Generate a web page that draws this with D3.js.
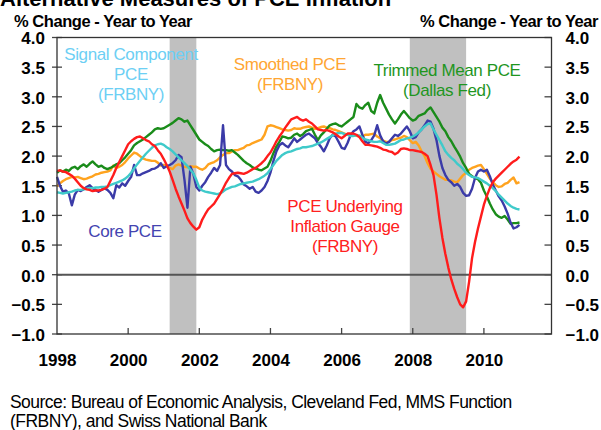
<!DOCTYPE html>
<html>
<head>
<meta charset="utf-8">
<title>Alternative Measures of PCE Inflation</title>
<script src="https://d3js.org/d3.v7.min.js"></script>
<style>
  body { margin: 0; background: #fff; }
  svg { display: block; font-family: "Liberation Sans", Arial, sans-serif; }
</style>
</head>
<body>
<script>
  var width = 601, height = 430;

  // monthly data, first point = Jan 1998
  var startYear = 1998;
  var yearTicks = [1998, 2000, 2002, 2004, 2006, 2008, 2010];
  var valueTicks = [-1, -0.5, 0, 0.5, 1, 1.5, 2, 2.5, 3, 3.5, 4];
  // recession periods, in fractional years
  var recessions = [[2001 + 2 / 12, 2001 + 11 / 12], [2007 + 11 / 12, 2009 + 6 / 12]];

  var underlyingGauge = [
    1.75, 1.76, 1.74, 1.73, 1.70, 1.67, 1.62, 1.56, 1.50, 1.46, 1.44, 1.43,
    1.41, 1.42, 1.42, 1.43, 1.45, 1.48, 1.58, 1.68, 1.80, 1.90, 2.00, 2.10,
    2.20, 2.25, 2.29, 2.32, 2.33, 2.30, 2.27, 2.25, 2.20, 2.17, 2.10, 2.04,
    1.95, 1.85, 1.74, 1.60, 1.45, 1.32, 1.20, 1.08, 0.95, 0.87, 0.81, 0.76,
    0.80, 0.93, 1.02, 1.10, 1.15, 1.20, 1.28, 1.36, 1.45, 1.55, 1.63, 1.70,
    1.71, 1.72, 1.71, 1.70, 1.72, 1.75, 1.78, 1.80, 1.84, 1.88, 1.93, 2.00,
    2.06, 2.15, 2.25, 2.33, 2.40, 2.48, 2.55, 2.62, 2.64, 2.66, 2.62, 2.60,
    2.62, 2.58, 2.55, 2.50, 2.45, 2.44, 2.43, 2.44, 2.42, 2.40, 2.37, 2.33,
    2.30, 2.34, 2.38, 2.38, 2.38, 2.36, 2.32, 2.25, 2.19, 2.19, 2.18, 2.17,
    2.16, 2.14, 2.11, 2.10, 2.08, 2.07, 2.03, 2.06, 2.12, 2.13, 2.12, 2.10,
    2.10, 2.09, 2.08, 2.07, 2.04, 2.00, 1.85, 1.68, 1.35, 0.95, 0.62, 0.35,
    0.12, -0.08, -0.24, -0.38, -0.50, -0.55, -0.45, -0.12, 0.28, 0.55, 0.78, 0.98,
    1.18, 1.33, 1.46, 1.56, 1.62, 1.67, 1.72, 1.77, 1.82, 1.87, 1.91, 1.94,
    1.99
  ];

  var trimmedMean = [
    1.72, 1.76, 1.74, 1.77, 1.75, 1.80, 1.82, 1.78, 1.83, 1.86, 1.82, 1.87,
    1.91, 1.86, 1.82, 1.84, 1.80, 1.78, 1.80, 1.83, 1.86, 1.88, 1.93, 1.98,
    2.04, 2.10, 2.18, 2.22, 2.25, 2.28, 2.32, 2.36, 2.40, 2.45, 2.47, 2.46,
    2.47, 2.50, 2.53, 2.56, 2.60, 2.64, 2.62, 2.58, 2.60, 2.52, 2.44, 2.36,
    2.28, 2.24, 2.20, 2.17, 2.12, 2.08, 2.10, 2.11, 2.10, 2.10, 2.09, 2.10,
    2.06, 2.02, 1.97, 1.92, 1.88, 1.85, 1.81, 1.79, 1.77, 1.76, 1.79, 1.82,
    1.92, 2.05, 2.16, 2.24, 2.33, 2.32, 2.30, 2.31, 2.36, 2.38, 2.34, 2.37,
    2.42, 2.44, 2.46, 2.36, 2.27, 2.35, 2.40, 2.46, 2.52, 2.54, 2.55, 2.52,
    2.50, 2.54, 2.58, 2.62, 2.66, 2.88, 2.82, 2.80, 2.86, 2.90, 2.76, 2.72,
    2.90, 3.03, 2.90, 2.80, 2.70, 2.62, 2.55, 2.62, 2.70, 2.76, 2.70, 2.64,
    2.60, 2.62, 2.68, 2.70, 2.72, 2.78, 2.82, 2.74, 2.66, 2.58, 2.48, 2.42,
    2.32, 2.25, 2.16, 2.08, 1.99, 1.88, 1.80, 1.70, 1.66, 1.63, 1.61, 1.55,
    1.42, 1.32, 1.20, 1.10, 1.02, 0.98, 0.96, 0.99, 0.93, 0.86, 0.87, 0.87,
    0.88
  ];

  var corePCE = [
    1.65, 1.50, 1.40, 1.42, 1.37, 1.17, 1.35, 1.43, 1.41, 1.44, 1.48, 1.51,
    1.46, 1.43, 1.40, 1.43, 1.46, 1.43, 1.38, 1.29, 1.51, 1.47, 1.54, 1.50,
    1.58, 1.65, 1.85, 1.68, 1.68, 1.71, 1.73, 1.75, 1.78, 1.79, 1.82, 1.88,
    1.80, 1.83, 1.85, 1.88, 1.93, 2.02, 1.98, 1.60, 1.13, 1.82, 1.70, 1.48,
    1.42, 1.50, 1.56, 1.65, 1.72, 1.80, 1.75, 1.85, 2.52, 1.85, 1.78, 1.74,
    1.68, 1.66, 1.60, 1.52, 1.49, 1.45, 1.48, 1.40, 1.38, 1.42, 1.48, 1.58,
    1.72, 1.92, 2.08, 2.18, 2.22, 2.18, 2.15, 2.22, 2.30, 2.24, 2.28, 2.32,
    2.36, 2.38, 2.34, 2.30, 2.22, 2.16, 2.08, 2.18, 2.30, 2.36, 2.33, 2.24,
    2.14, 2.12, 2.22, 2.35, 2.42, 2.45, 2.50, 2.36, 2.24, 2.22, 2.27, 2.35,
    2.52, 2.35, 2.25, 2.21, 2.24, 2.30, 2.36, 2.34, 2.38, 2.44, 2.50, 2.42,
    2.30, 2.32, 2.40, 2.45, 2.52, 2.60, 2.58, 2.46, 2.27, 2.00, 1.80, 1.68,
    1.60, 1.56, 1.50, 1.53, 1.48, 1.38, 1.33, 1.34, 1.45, 1.63, 1.74, 1.77,
    1.74, 1.77, 1.66, 1.52, 1.42, 1.32, 1.25, 1.15, 1.03, 0.88, 0.78, 0.80,
    0.84
  ];

  var signalComponent = [
    1.39, 1.38, 1.37, 1.38, 1.39, 1.40, 1.42, 1.43, 1.43, 1.44, 1.45, 1.46,
    1.46, 1.47, 1.47, 1.48, 1.48, 1.49, 1.51, 1.53, 1.55, 1.57, 1.59, 1.62,
    1.66, 1.72, 1.79, 1.86, 1.92, 1.98, 2.04, 2.09, 2.14, 2.18, 2.20, 2.21,
    2.19, 2.15, 2.12, 2.08, 2.03, 1.98, 1.93, 1.88, 1.83, 1.77, 1.71, 1.60,
    1.47, 1.42, 1.40, 1.39, 1.38, 1.37, 1.36, 1.37, 1.40, 1.44, 1.46, 1.48,
    1.49, 1.51, 1.53, 1.54, 1.55, 1.56, 1.57, 1.59, 1.61, 1.64, 1.67, 1.71,
    1.78, 1.85, 1.92, 1.97, 2.02, 2.05, 2.07, 2.08, 2.10, 2.12, 2.13, 2.15,
    2.15, 2.16, 2.17, 2.19, 2.21, 2.23, 2.26, 2.29, 2.32, 2.35, 2.38, 2.39,
    2.39, 2.37, 2.36, 2.34, 2.34, 2.35, 2.35, 2.31, 2.28, 2.27, 2.25, 2.24,
    2.24, 2.25, 2.22, 2.19, 2.19, 2.20, 2.21, 2.24, 2.27, 2.28, 2.30, 2.31,
    2.33, 2.36, 2.40, 2.45, 2.50, 2.54, 2.55, 2.45, 2.36, 2.27, 2.18, 2.08,
    2.02, 1.97, 1.93, 1.87, 1.83, 1.78, 1.72, 1.68, 1.65, 1.64, 1.63, 1.60,
    1.57, 1.54, 1.50, 1.46, 1.41, 1.35, 1.30, 1.25, 1.20, 1.16, 1.13, 1.11,
    1.10
  ];

  var smoothedPCE = [
    1.49, 1.54, 1.58, 1.61, 1.63, 1.65, 1.64, 1.65, 1.63, 1.61, 1.62, 1.64,
    1.66, 1.69, 1.70, 1.72, 1.73, 1.74, 1.76, 1.84, 1.80, 1.82, 1.85, 1.90,
    1.96, 2.01, 2.06, 2.04, 2.00, 1.96, 1.94, 1.93, 1.92, 1.92, 1.89, 1.84,
    1.85, 1.84, 1.80, 1.78, 1.84, 1.86, 1.84, 1.82, 1.81, 1.83, 1.82, 1.82,
    1.79, 1.77, 1.80, 1.86, 1.88, 1.90, 1.93, 1.98, 2.02, 2.05, 2.05, 2.08,
    2.10, 2.10, 2.12, 2.14, 2.18, 2.19, 2.22, 2.24, 2.26, 2.28, 2.36, 2.50,
    2.52, 2.51, 2.49, 2.47, 2.45, 2.44, 2.43, 2.44, 2.47, 2.46, 2.46, 2.48,
    2.49, 2.50, 2.48, 2.46, 2.47, 2.49, 2.50, 2.48, 2.47, 2.45, 2.44, 2.42,
    2.40, 2.38, 2.36, 2.35, 2.35, 2.34, 2.33, 2.33, 2.36, 2.36, 2.37, 2.38,
    2.33, 2.30, 2.26, 2.24, 2.24, 2.27, 2.28, 2.30, 2.31, 2.34, 2.32, 2.27,
    2.22, 2.24, 2.18, 2.08, 2.00, 1.88, 1.79, 1.74, 1.70, 1.66, 1.63, 1.60,
    1.60, 1.59, 1.57, 1.56, 1.62, 1.68, 1.72, 1.77, 1.80, 1.82, 1.84, 1.85,
    1.78, 1.70, 1.62, 1.56, 1.51, 1.48, 1.49, 1.53, 1.55, 1.60, 1.64, 1.54,
    1.56
  ];

  var series = [
    { values: smoothedPCE, color: "#ffa31f" },
    { values: trimmedMean, color: "#1a8c1a" },
    { values: corePCE, color: "#3b3ba8" },
    { values: signalComponent, color: "#3fcaca" },
    { values: underlyingGauge, color: "#ff1c1c" }
  ];

  // series labels inside the plot
  var labels = [
    { lines: ["Signal Component", "PCE", "(FRBNY)"], x: 131, y: 60, color: "#6dcff4" },
    { lines: ["Smoothed PCE", "(FRBNY)"], x: 290, y: 70, color: "#ffa633" },
    { lines: ["Trimmed Mean PCE", "(Dallas Fed)"], x: 447, y: 76, color: "#1f961f" },
    { lines: ["PCE Underlying", "Inflation Gauge", "(FRBNY)"], x: 345, y: 212, color: "#ff2020" },
    { lines: ["Core PCE"], x: 125, y: 237, color: "#4444b0" }
  ];

  var margin = { left: 57, right: 49.5, top: 37.5, bottom: 96 };
  var x = d3.scaleLinear().domain([1998, 2011.9]).range([margin.left, width - margin.right]);
  var y = d3.scaleLinear().domain([-1, 4]).range([height - margin.bottom, margin.top]);

  var svg = d3.select("body").append("svg").attr("width", width).attr("height", height);

  // title, cut off at the top like the source image
  svg.append("text").attr("x", 0).attr("y", 6)
    .attr("font-size", 22).attr("font-weight", "bold").attr("fill", "#000")
    .text("Alternative Measures of PCE Inflation");

  svg.append("text").attr("x", 14).attr("y", 26.5)
    .attr("font-size", 16.5).attr("font-weight", "bold").attr("letter-spacing", -0.45)
    .text("% Change - Year to Year");
  svg.append("text").attr("x", 420).attr("y", 26.5)
    .attr("font-size", 16.5).attr("font-weight", "bold").attr("letter-spacing", -0.45)
    .text("% Change - Year to Year");

  // recession shading
  svg.selectAll("rect.rec")
    .data(recessions)
    .enter().append("rect")
    .attr("class", "rec")
    .attr("x", function (d) { return x(d[0]); })
    .attr("width", function (d) { return x(d[1]) - x(d[0]); })
    .attr("y", y(4))
    .attr("height", y(-1) - y(4))
    .attr("fill", "#c0c0c0");

  // axes
  var yLeft = d3.axisLeft(y).tickValues(valueTicks).tickSize(0).tickPadding(12)
    .tickFormat(d3.format(".1f"));
  var yRight = d3.axisRight(y).tickValues(valueTicks).tickSize(0).tickPadding(14)
    .tickFormat(d3.format(".1f"));
  var xAxis = d3.axisBottom(x).tickValues(yearTicks).tickSize(0).tickPadding(20)
    .tickFormat(d3.format("d"));

  var gl = svg.append("g").attr("transform", "translate(" + x.range()[0] + ",0)").call(yLeft);
  var gr = svg.append("g").attr("transform", "translate(" + x.range()[1] + ",0)").call(yRight);
  var gx = svg.append("g").attr("transform", "translate(0," + y(-1) + ")").call(xAxis);
  [gl, gr, gx].forEach(function (g) {
    g.select(".domain").remove();
    g.selectAll("text").attr("font-size", 17).attr("font-weight", "bold")
      .attr("fill", "#000").attr("font-family", "Liberation Sans, Arial, sans-serif");
  });
  gl.selectAll("text").attr("dy", "0.38em");
  gr.selectAll("text").attr("dy", "0.38em");

  // small tick marks
  svg.selectAll("line.ltick").data(valueTicks).enter().append("line")
    .attr("x1", x.range()[0] - 5).attr("x2", x.range()[0] + 5)
    .attr("y1", function (d) { return y(d); }).attr("y2", function (d) { return y(d); })
    .attr("stroke", "#444").attr("stroke-width", 1.3);
  svg.selectAll("line.rtick").data(valueTicks).enter().append("line")
    .attr("x1", x.range()[1] - 7).attr("x2", x.range()[1])
    .attr("y1", function (d) { return y(d); }).attr("y2", function (d) { return y(d); })
    .attr("stroke", "#444").attr("stroke-width", 1.3);
  svg.selectAll("line.xtick").data(yearTicks.slice(1)).enter().append("line")
    .attr("x1", function (d) { return x(d); }).attr("x2", function (d) { return x(d); })
    .attr("y1", y(-1) - 6).attr("y2", y(-1))
    .attr("stroke", "#444").attr("stroke-width", 1.3);

  // labels
  labels.forEach(function (l) {
    var t = svg.append("text").attr("text-anchor", "middle")
      .attr("font-size", 17).attr("letter-spacing", -0.4).attr("fill", l.color);
    l.lines.forEach(function (s, i) {
      t.append("tspan").attr("x", l.x).attr("y", l.y + i * 20).text(s);
    });
  });

  // zero line
  svg.append("line")
    .attr("x1", x.range()[0]).attr("x2", x.range()[1])
    .attr("y1", y(0)).attr("y2", y(0))
    .attr("stroke", "#555").attr("stroke-width", 2);

  var line = d3.line()
    .x(function (d, i) { return x(startYear + i / 12); })
    .y(function (d) { return y(d); });

  svg.selectAll("path.series")
    .data(series)
    .enter().append("path")
    .attr("class", "series")
    .attr("d", function (d) { return line(d.values); })
    .attr("fill", "none")
    .attr("stroke", function (d) { return d.color; })
    .attr("stroke-width", 2.4)
    .attr("stroke-linejoin", "round");

  // frame
  svg.append("rect")
    .attr("x", x.range()[0]).attr("y", y(4))
    .attr("width", x.range()[1] - x.range()[0]).attr("height", y(-1) - y(4))
    .attr("fill", "none").attr("stroke", "#333").attr("stroke-width", 1.3);

  // source note
  var src = svg.append("text").attr("font-size", 17.5).attr("letter-spacing", -0.55).attr("fill", "#000");
  src.append("tspan").attr("x", 10).attr("y", 408)
    .text("Source: Bureau of Economic Analysis, Cleveland Fed, MMS Function");
  src.append("tspan").attr("x", 10).attr("y", 427)
    .text("(FRBNY), and Swiss National Bank");
</script>
</body>
</html>
